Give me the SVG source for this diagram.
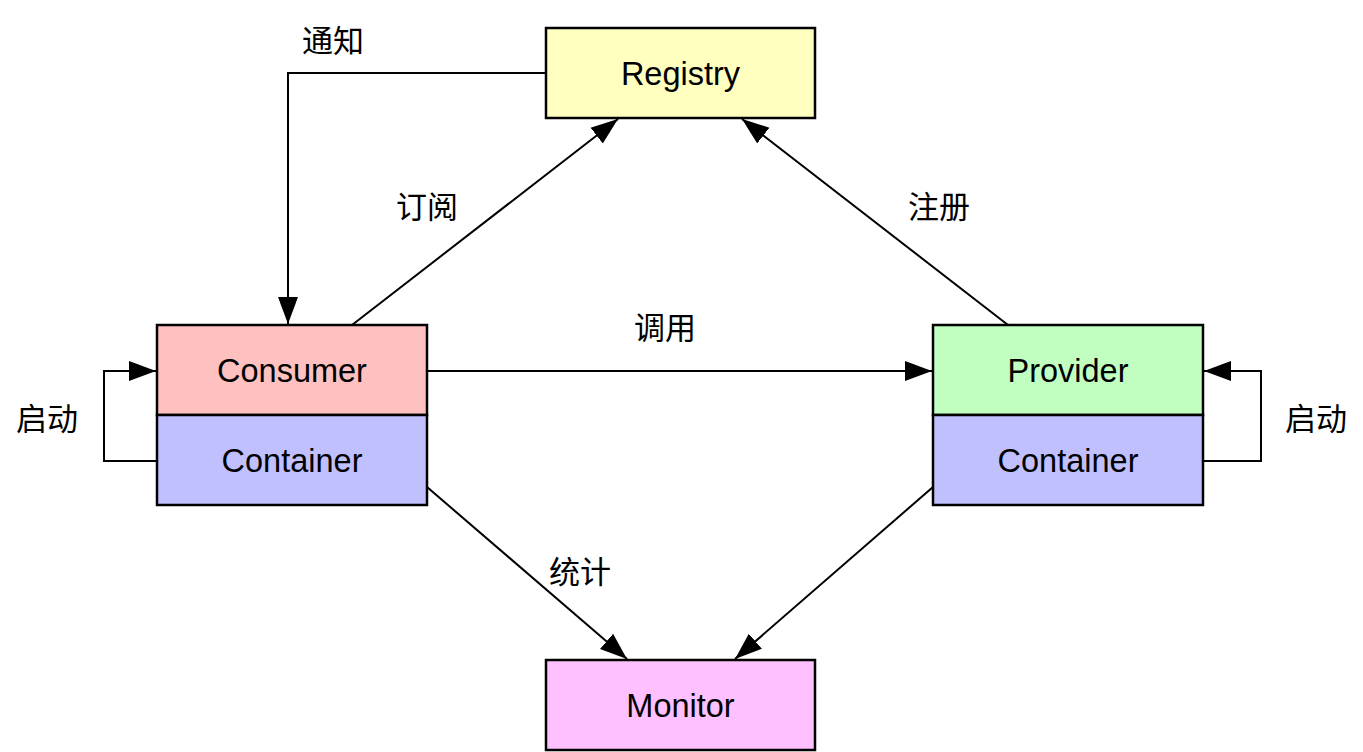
<svg xmlns="http://www.w3.org/2000/svg" width="1363" height="752" viewBox="0 0 1363 752">
<defs>
<style>
.box{stroke:#000;stroke-width:2.5}
.lbl{font-family:"Liberation Sans",Arial,sans-serif;font-size:32.5px;text-anchor:middle;fill:#000}
.cn{font-family:"Noto Sans CJK SC","Noto Sans",sans-serif;font-size:31px;text-anchor:middle;fill:#000}
.conn{fill:none;stroke:#000;stroke-width:2}
</style>
<marker id="arr" markerUnits="userSpaceOnUse" markerWidth="28" markerHeight="22" refX="27" refY="10" orient="auto" viewBox="0 0 28 20">
<path d="M0,0 L27,10 L0,20 z" fill="#000"/>
</marker>
</defs>
<rect width="1363" height="752" fill="#fff"/>
<g id="connectors">
<polyline class="conn" points="546,73 288,73 288,324" marker-end="url(#arr)"/>
<line class="conn" x1="352" y1="325" x2="618" y2="119" marker-end="url(#arr)"/>
<line class="conn" x1="1008" y1="325" x2="742" y2="119" marker-end="url(#arr)"/>
<line class="conn" x1="427" y1="371" x2="932" y2="371" marker-end="url(#arr)"/>
<polyline class="conn" points="157,461 104,461 104,371 156,371" marker-end="url(#arr)"/>
<polyline class="conn" points="1203,461 1261,461 1261,371 1204,371" marker-end="url(#arr)"/>
<line class="conn" x1="427" y1="487" x2="627" y2="659" marker-end="url(#arr)"/>
<line class="conn" x1="933" y1="487" x2="735" y2="659" marker-end="url(#arr)"/>
<text class="cn" x="333" y="52">通知</text>
<text class="cn" x="427" y="218">订阅</text>
<text class="cn" x="939" y="218">注册</text>
<text class="cn" x="665" y="339">调用</text>
<text class="cn" x="47" y="430">启动</text>
<text class="cn" x="1316" y="430">启动</text>
<text class="cn" x="580" y="583">统计</text>
</g>
<g id="registry">
<rect class="box" x="546" y="28" width="269" height="90" fill="#FFFFC0"/>
<text class="lbl" x="680.5" y="85">Registry</text>
</g>
<g id="consumer">
<rect class="box" x="157" y="325" width="270" height="90" fill="#FFC0C0"/>
<text class="lbl" x="292" y="382">Consumer</text>
</g>
<g id="consumer-container">
<rect class="box" x="157" y="415" width="270" height="90" fill="#C0C0FF"/>
<text class="lbl" x="292" y="472">Container</text>
</g>
<g id="provider">
<rect class="box" x="933" y="325" width="270" height="90" fill="#C0FFC0"/>
<text class="lbl" x="1068" y="382">Provider</text>
</g>
<g id="provider-container">
<rect class="box" x="933" y="415" width="270" height="90" fill="#C0C0FF"/>
<text class="lbl" x="1068" y="472">Container</text>
</g>
<g id="monitor">
<rect class="box" x="546" y="660" width="269" height="90" fill="#FFC0FF"/>
<text class="lbl" x="680.5" y="717">Monitor</text>
</g>
</svg>
